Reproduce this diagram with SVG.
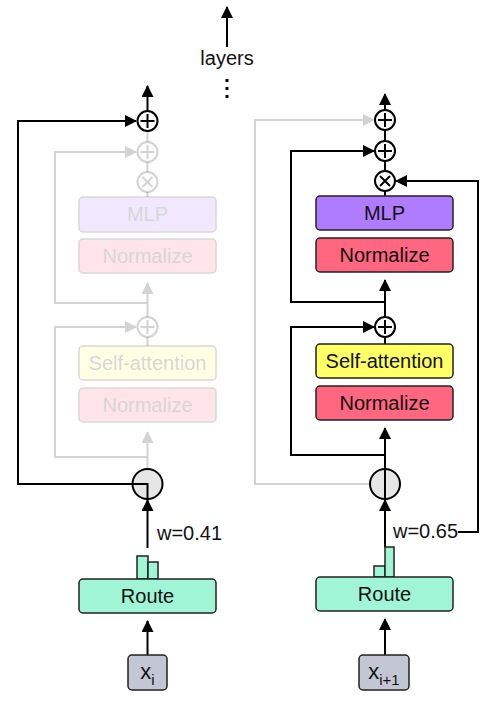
<svg xmlns="http://www.w3.org/2000/svg" width="496" height="701" viewBox="0 0 496 701">
<style>
text{font-family:"Liberation Sans",Arial,sans-serif;font-size:20px;fill:#111;}
.lbl{text-anchor:middle;}
.box{stroke:#222;stroke-width:1.5;}
.ln{fill:none;stroke:#000;stroke-width:2;}
.arr{fill:none;stroke:#000;stroke-width:2;marker-end:url(#ah);}
.op{fill:#fff;stroke:#000;stroke-width:2;}
.sym{stroke:#000;stroke-width:2;}
.rt{fill:#e6e6e6;stroke:#000;stroke-width:2;}
.fade{opacity:0.17;}
.mlp{fill:#b07cff;}
.norm{fill:#ff6680;}
.sa{fill:#ffff66;}
.route{fill:#9ff5d6;}
.xin{fill:#c3c7d3;}
.xt{font-size:22px;}
.sub{font-size:15px;}
</style>
<defs>
<marker id="ah" viewBox="0 0 12 12" markerWidth="12" markerHeight="12" markerUnits="userSpaceOnUse" refX="11" refY="6" orient="auto">
<path d="M0,0 L12,6 L0,12 z" fill="#000"/>
</marker>
</defs>
<g id="connectors">
<line class="arr" x1="227" y1="47" x2="227" y2="7"/>
<line class="arr" x1="147.5" y1="111" x2="147.5" y2="86"/>
<polyline class="arr" points="147.5,484 18,484 18,121 136,121"/>
<line class="ln" x1="147.5" y1="484" x2="147.5" y2="499"/>
<line class="arr" x1="147.5" y1="548" x2="147.5" y2="500"/>
<line class="arr" x1="147.5" y1="655" x2="147.5" y2="621"/>
<line class="arr" x1="385" y1="110" x2="385" y2="94"/>
<line class="ln" x1="385" y1="131" x2="385" y2="141"/>
<line class="ln" x1="385" y1="161" x2="385" y2="171"/>
<line class="ln" x1="385" y1="191" x2="385" y2="196"/>
<polyline class="arr" points="385,302 291,302 291,151 374,151"/>
<line class="arr" x1="385" y1="317" x2="385" y2="280"/>
<line class="ln" x1="385" y1="337" x2="385" y2="344"/>
<polyline class="arr" points="385,455 291,455 291,327 374,327"/>
<line class="arr" x1="385" y1="469" x2="385" y2="428"/>
<line class="ln" x1="385" y1="469" x2="385" y2="499"/>
<line class="arr" x1="385" y1="547" x2="385" y2="500"/>
<polyline class="arr" points="458,532 478,532 478,181 396,181"/>
<line class="arr" x1="385" y1="655" x2="385" y2="619"/>
<g class="fade">
<line class="ln" x1="147.5" y1="131" x2="147.5" y2="142"/>
<line class="ln" x1="147.5" y1="162" x2="147.5" y2="172"/>
<line class="ln" x1="147.5" y1="192" x2="147.5" y2="197"/>
<polyline class="arr" points="147.5,303 55,303 55,152 136,152"/>
<line class="arr" x1="147.5" y1="317" x2="147.5" y2="283"/>
<line class="ln" x1="147.5" y1="337" x2="147.5" y2="346"/>
<polyline class="arr" points="147.5,457 55,457 55,327 136,327"/>
<line class="arr" x1="147.5" y1="469" x2="147.5" y2="432"/>
<polyline class="arr" points="370,484 255,484 255,120 374,120"/>
</g>
</g>
<g id="layers">
<text class="lbl" x="227" y="65">layers</text>
<rect x="225.5" y="79" width="3" height="3" fill="#000"/>
<rect x="225.5" y="87" width="3" height="3" fill="#000"/>
<rect x="225.5" y="95" width="3" height="3" fill="#000"/>
</g>
<g class="fade">
<g id="left-add2"><circle class="op" cx="147.5" cy="152" r="10"/><path class="sym" d="M140.5,152 H154.5 M147.5,145 V159"/></g>
<g id="left-mul"><circle class="op" cx="147.5" cy="182" r="10"/><path class="sym" d="M142.5,177 L152.5,187 M152.5,177 L142.5,187"/></g>
<g id="left-mlp"><rect class="box mlp" x="79" y="197" width="137" height="35" rx="4"/><text class="lbl" x="147.5" y="221">MLP</text></g>
<g id="left-norm2"><rect class="box norm" x="79" y="239" width="137" height="34" rx="4"/><text class="lbl" x="147.5" y="263">Normalize</text></g>
<g id="left-add1"><circle class="op" cx="147.5" cy="327" r="10"/><path class="sym" d="M140.5,327 H154.5 M147.5,320 V334"/></g>
<g id="left-sa"><rect class="box sa" x="79" y="346" width="137" height="34" rx="4"/><text class="lbl" x="147.5" y="370">Self-attention</text></g>
<g id="left-norm1"><rect class="box norm" x="79" y="388" width="137" height="34" rx="4"/><text class="lbl" x="147.5" y="412">Normalize</text></g>
</g>
<g id="left-add-top"><circle class="op" cx="147.5" cy="121" r="10"/><path class="sym" d="M140.5,121 H154.5 M147.5,114 V128"/></g>
<g id="left-router"><circle class="rt" cx="147.5" cy="484" r="15"/><path class="ln" d="M132.5,484 H147.5 V499"/></g>
<g id="left-weight"><text x="157" y="540">w=0.41</text></g>
<g id="left-route">
<rect class="box route" x="137" y="556" width="11" height="23" stroke-width="1"/>
<rect class="box route" x="148" y="562" width="10" height="17" stroke-width="1"/>
<rect class="box route" x="79" y="579" width="137" height="34" rx="4"/>
<text class="lbl" x="147.5" y="603">Route</text>
</g>
<g id="left-input"><rect class="box xin" x="128" y="655" width="39" height="35" rx="4"/><text class="lbl xt" x="147.5" y="679">x<tspan class="sub" dy="6">i</tspan></text></g>
<g id="right-add-top"><circle class="op" cx="385" cy="120" r="10"/><path class="sym" d="M378,120 H392 M385,113 V127"/></g>
<g id="right-add2"><circle class="op" cx="385" cy="151" r="10"/><path class="sym" d="M378,151 H392 M385,144 V158"/></g>
<g id="right-mul"><circle class="op" cx="385" cy="181" r="10"/><path class="sym" d="M380,176 L390,186 M390,176 L380,186"/></g>
<g id="right-mlp"><rect class="box mlp" x="316" y="196" width="137" height="34" rx="4"/><text class="lbl" x="384.5" y="220">MLP</text></g>
<g id="right-norm2"><rect class="box norm" x="316" y="238" width="137" height="34" rx="4"/><text class="lbl" x="384.5" y="262">Normalize</text></g>
<g id="right-add1"><circle class="op" cx="385" cy="327" r="10"/><path class="sym" d="M378,327 H392 M385,320 V334"/></g>
<g id="right-sa"><rect class="box sa" x="316" y="344" width="137" height="34" rx="4"/><text class="lbl" x="384.5" y="368">Self-attention</text></g>
<g id="right-norm1"><rect class="box norm" x="316" y="386" width="137" height="34" rx="4"/><text class="lbl" x="384.5" y="410">Normalize</text></g>
<g id="right-router"><circle class="rt" cx="385" cy="484" r="15"/><line class="ln" x1="385" y1="469" x2="385" y2="499"/></g>
<g id="right-weight"><text x="393" y="538">w=0.65</text></g>
<g id="right-route">
<rect class="box route" x="374" y="566" width="11" height="11" stroke-width="1"/>
<rect class="box route" x="385" y="547" width="9" height="30" stroke-width="1"/>
<rect class="box route" x="316" y="577" width="137" height="34" rx="4"/>
<text class="lbl" x="384.5" y="601">Route</text>
</g>
<g id="right-input"><rect class="box xin" x="359" y="655" width="50" height="35" rx="4"/><text class="lbl xt" x="384" y="679">x<tspan class="sub" dy="6">i+1</tspan></text></g>
</svg>
